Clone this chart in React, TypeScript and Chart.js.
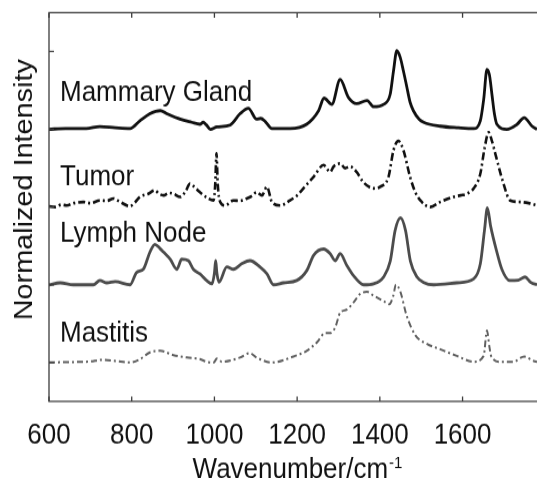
import React, { useEffect, useRef } from "react";
import { Chart, registerables } from "chart.js";

Chart.register(...registerables);

// ---------- data ----------
const seriesNames = ["Mammary Gland", "Tumor", "Lymph Node", "Mastitis"];
const seriesOffsets = [3, 2, 1, 0];

const mammaryWavenumbers = [600, 640, 690, 723, 760, 796, 820, 844, 858, 869, 885, 917, 945, 965, 973, 980, 990, 1006, 1038, 1062, 1082, 1102, 1112, 1123, 1139, 1183, 1223, 1252, 1265, 1284, 1304, 1324, 1344, 1369, 1385, 1409, 1425, 1433, 1441, 1449, 1457, 1465, 1473, 1481, 1495, 1506, 1546, 1590, 1627, 1643, 1651, 1659, 1665, 1671, 1677, 1683, 1707, 1732, 1749, 1768, 1780];
const mammaryIntensity = [0.0, 0.01, 0.01, 0.035, 0.02, 0.01, 0.11, 0.2, 0.23, 0.24, 0.2, 0.13, 0.09, 0.065, 0.09, 0.06, 0.0, 0.03, 0.055, 0.2, 0.27, 0.13, 0.14, 0.1, 0.01, 0.01, 0.065, 0.24, 0.4, 0.32, 0.64, 0.41, 0.33, 0.37, 0.29, 0.32, 0.45, 0.75, 1.01, 0.93, 0.75, 0.55, 0.35, 0.24, 0.13, 0.09, 0.04, 0.02, 0.01, 0.11, 0.38, 0.77, 0.7, 0.45, 0.2, 0.065, 0.0, 0.065, 0.15, 0.04, 0.0];

const tumorWavenumbers = [600, 615, 630, 643, 660, 683, 700, 723, 740, 756, 772, 796, 808, 820, 840, 856, 866, 877, 890, 901, 917, 930, 941, 953, 965, 985, 998, 1002, 1005, 1008, 1014, 1026, 1046, 1062, 1078, 1090, 1102, 1115, 1127, 1139, 1159, 1183, 1200, 1215, 1240, 1264, 1280, 1288, 1304, 1316, 1328, 1344, 1360, 1385, 1401, 1421, 1433, 1445, 1457, 1473, 1485, 1498, 1522, 1546, 1578, 1595, 1610, 1627, 1643, 1653, 1663, 1671, 1679, 1699, 1715, 1740, 1760, 1780];
const tumorIntensity = [0.01, 0.0, 0.03, 0.02, 0.05, 0.065, 0.05, 0.085, 0.08, 0.11, 0.065, 0.01, 0.06, 0.13, 0.17, 0.215, 0.17, 0.15, 0.18, 0.17, 0.13, 0.2, 0.3, 0.25, 0.19, 0.11, 0.085, 0.3, 0.69, 0.3, 0.065, 0.02, 0.085, 0.08, 0.11, 0.14, 0.19, 0.15, 0.26, 0.065, 0.02, 0.085, 0.15, 0.24, 0.39, 0.54, 0.45, 0.52, 0.56, 0.5, 0.52, 0.45, 0.32, 0.24, 0.26, 0.39, 0.73, 0.85, 0.73, 0.39, 0.2, 0.085, 0.0, 0.065, 0.13, 0.15, 0.17, 0.24, 0.43, 0.75, 0.96, 0.85, 0.69, 0.3, 0.085, 0.065, 0.05, 0.02];

const lymphWavenumbers = [600, 627, 659, 707, 723, 740, 760, 796, 812, 828, 844, 856, 868, 877, 893, 909, 921, 937, 949, 965, 981, 994, 1000, 1003, 1006, 1011, 1030, 1046, 1066, 1086, 1110, 1127, 1143, 1167, 1199, 1223, 1240, 1264, 1280, 1292, 1304, 1320, 1336, 1361, 1385, 1409, 1425, 1437, 1450, 1462, 1474, 1490, 1506, 1530, 1586, 1627, 1643, 1653, 1660, 1668, 1682, 1695, 1714, 1735, 1751, 1765, 1780];
const lymphIntensity = [0.0, 0.025, 0.0, 0.0, 0.055, 0.025, 0.04, 0.0, 0.16, 0.2, 0.42, 0.52, 0.47, 0.42, 0.33, 0.2, 0.33, 0.31, 0.2, 0.14, 0.055, 0.013, 0.15, 0.31, 0.15, 0.034, 0.23, 0.2, 0.27, 0.31, 0.23, 0.14, 0.0, 0.025, 0.055, 0.18, 0.38, 0.46, 0.4, 0.31, 0.4, 0.25, 0.12, 0.0, 0.013, 0.1, 0.3, 0.7, 0.86, 0.7, 0.3, 0.1, 0.03, 0.0, 0.025, 0.077, 0.27, 0.7, 0.99, 0.75, 0.44, 0.2, 0.055, 0.06, 0.1, 0.03, 0.0];

const mastitisWavenumbers = [600, 640, 699, 727, 760, 796, 820, 844, 869, 901, 933, 965, 981, 998, 1006, 1018, 1062, 1085, 1102, 1139, 1191, 1223, 1248, 1268, 1280, 1292, 1304, 1320, 1336, 1352, 1369, 1385, 1409, 1423, 1432, 1439, 1449, 1465, 1486, 1514, 1546, 1586, 1627, 1651, 1659, 1665, 1669, 1691, 1723, 1749, 1772, 1780];
const mastitisIntensity = [0, 0.005, 0.013, 0.034, 0.02, 0, 0.043, 0.13, 0.15, 0.094, 0.064, 0.043, 0.01, 0, 0.05, 0.01, 0.064, 0.12, 0.064, 0, 0.077, 0.15, 0.26, 0.38, 0.38, 0.45, 0.64, 0.68, 0.77, 0.88, 0.91, 0.86, 0.79, 0.75, 0.85, 1.0, 0.92, 0.6, 0.35, 0.24, 0.17, 0.085, 0.01, 0.085, 0.41, 0.2, 0.085, 0.01, 0.01, 0.077, 0.02, 0.01];

const xTickValues = [600, 800, 1000, 1200, 1400, 1600];
const yTickValues = [0, 1, 2, 3, 4];
const xAxisTitle = "Wavenumber/cm";
const xAxisTitleSup = "-1";
const yAxisTitle = "Normalized Intensity";

// ---------- layout / style ----------
const CANVAS_W = 537;
const CANVAS_H = 431;
const DISPLAY_H = 478;
const FONT = '"Liberation Sans", Arial, Helvetica, sans-serif';

const seriesWavenumbers = [mammaryWavenumbers, tumorWavenumbers, lymphWavenumbers, mastitisWavenumbers];
const seriesIntensity = [mammaryIntensity, tumorIntensity, lymphIntensity, mastitisIntensity];
const seriesStyles = [
  { color: "#111111", width: 2.8, dash: [] as number[] },
  { color: "#111111", width: 2.6, dash: [7, 3, 2, 3] },
  { color: "#4c4c4c", width: 2.8, dash: [] as number[] },
  { color: "#606060", width: 2.0, dash: [6, 3, 2, 3] },
];
const labelLift = [0.37, 0.285, 0.557, 0.272];

const decorPlugin = {
  id: "decor",
  afterDatasetsDraw(chart: any) {
    const { ctx, chartArea: a, scales } = chart;
    const x = scales.x;
    const y = scales.y;
    ctx.save();
    // axis box (left, top, bottom)
    ctx.strokeStyle = "#3c3c3c";
    ctx.lineWidth = 1.3;
    ctx.setLineDash([]);
    ctx.beginPath();
    ctx.moveTo(CANVAS_W + 5, a.top);
    ctx.lineTo(a.left, a.top);
    ctx.lineTo(a.left, a.bottom);
    ctx.lineTo(CANVAS_W + 5, a.bottom);
    ctx.stroke();
    // inward ticks
    ctx.beginPath();
    for (const v of xTickValues) {
      const px = x.getPixelForValue(v);
      ctx.moveTo(px, a.bottom);
      ctx.lineTo(px, a.bottom - 4.5);
      ctx.moveTo(px, a.top);
      ctx.lineTo(px, a.top + 4.5);
    }
    for (const v of yTickValues) {
      const py = y.getPixelForValue(v);
      ctx.moveTo(a.left, py);
      ctx.lineTo(a.left + 5, py);
    }
    ctx.stroke();

    // curve labels
    ctx.fillStyle = "#111111";
    ctx.font = `26px ${FONT}`;
    ctx.textAlign = "left";
    ctx.textBaseline = "alphabetic";
    seriesNames.forEach((name, i) => {
      ctx.fillText(name, a.left + 11, y.getPixelForValue(seriesOffsets[i] + labelLift[i]));
    });

    // x title with superscript
    const mainW = ctx.measureText(xAxisTitle).width;
    ctx.font = `15px ${FONT}`;
    const supW = ctx.measureText(xAxisTitleSup).width;
    const cx = (a.left + a.right) / 2 + 4;
    const startX = cx - (mainW + supW) / 2;
    ctx.font = `26px ${FONT}`;
    ctx.fillText(xAxisTitle, startX, 430.5);
    ctx.font = `15px ${FONT}`;
    ctx.fillText(xAxisTitleSup, startX + mainW + 1, 422);

    // y title
    ctx.font = `26px ${FONT}`;
    ctx.translate(32, 171);
    ctx.rotate(-Math.PI / 2);
    ctx.textAlign = "center";
    ctx.fillText(yAxisTitle, 0, 0);
    ctx.restore();
  },
};

export default function App() {
  const canvasRef = useRef<HTMLCanvasElement | null>(null);

  useEffect(() => {
    const canvas = canvasRef.current;
    if (!canvas) return;
    const datasets = seriesNames.map((name, i) => ({
      label: name,
      data: seriesWavenumbers[i].map((wn, j) => ({ x: wn, y: seriesIntensity[i][j] + seriesOffsets[i] })),
      borderColor: seriesStyles[i].color,
      borderWidth: seriesStyles[i].width,
      borderDash: seriesStyles[i].dash,
      pointRadius: 0,
      fill: false,
      cubicInterpolationMode: "monotone" as const,
    }));
    const chart = new Chart(canvas, {
      type: "line",
      data: { datasets },
      plugins: [decorPlugin],
      options: {
        animation: false,
        responsive: false,
        devicePixelRatio: 1,
        layout: { padding: { left: 49, top: 11.4, right: 0, bottom: 0 } },
        plugins: { legend: { display: false }, tooltip: { enabled: false }, title: { display: false } },
        scales: {
          x: {
            type: "linear",
            min: 600,
            max: 1780,
            grid: { display: false },
            border: { display: false },
            afterBuildTicks: (axis: any) => {
              axis.ticks = xTickValues.map((v) => ({ value: v }));
            },
            afterFit: (scale: any) => {
              scale.height = CANVAS_H - 361.9;
            },
            ticks: {
              includeBounds: false,
              padding: 7,
              color: "#111111",
              font: { family: FONT, size: 26 },
              maxRotation: 0,
              autoSkip: false,
              callback: (v: any) => String(v),
            },
          },
          y: {
            type: "linear",
            display: false,
            min: -0.5,
            max: 4.5,
          },
        },
      },
    });
    return () => chart.destroy();
  }, []);

  return (
    <canvas
      ref={canvasRef}
      width={CANVAS_W}
      height={CANVAS_H}
      style={{ position: "absolute", left: 0, top: 0, width: `${CANVAS_W}px`, height: `${DISPLAY_H}px`, display: "block" }}
    />
  );
}
